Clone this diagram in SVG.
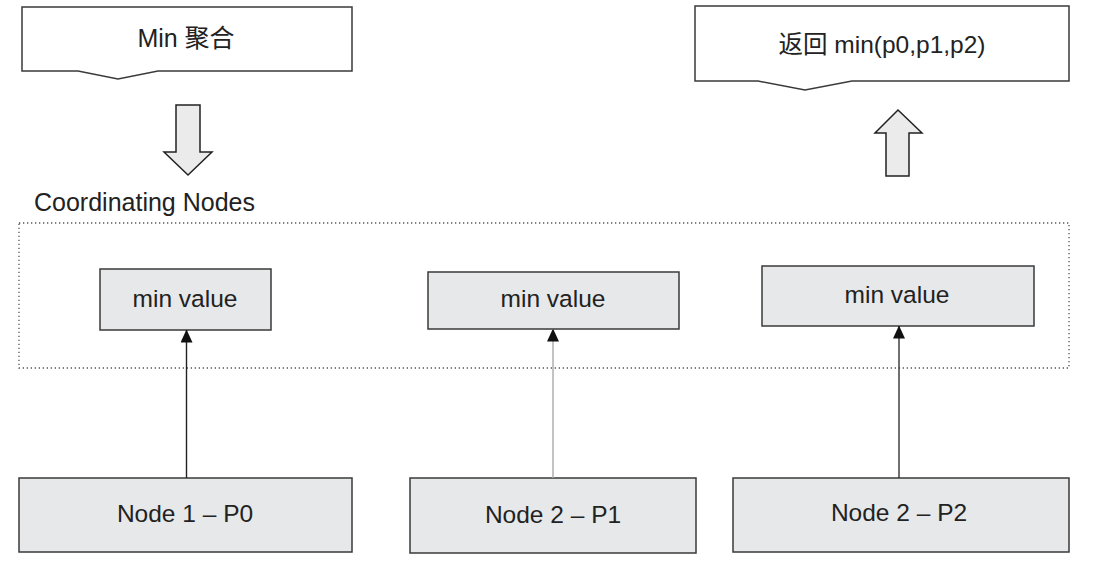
<svg xmlns="http://www.w3.org/2000/svg" width="1098" height="570" viewBox="0 0 1098 570">
<defs>
<style>
.t{font-family:"Liberation Sans","Noto Sans CJK SC",Arial,sans-serif;fill:#222;text-anchor:middle}
.box{fill:#e7e8e9;stroke:#3a3a3a;stroke-width:1.5}
.note{fill:#fff;stroke:#3a3a3a;stroke-width:1.5}
.big{fill:#ebebeb;stroke:#222;stroke-width:1.5}
.frame{fill:none;stroke:#555;stroke-width:1.3;stroke-dasharray:1.3 2.7}
.con{stroke-width:1.4;fill:none}
</style>
<marker id="ah" viewBox="0 0 13 12" refX="12.5" refY="6" markerWidth="13" markerHeight="12" markerUnits="userSpaceOnUse" orient="auto">
<path d="M0,0 L13,6 L0,12 Z" fill="#111"/>
</marker>
</defs>
<rect width="1098" height="570" fill="#fff"/>

<g id="min-agg">
<path class="note" d="M22,7 H352 V71 H158 L118,79 L78,71 H22 Z"/>
<text class="t" x="186" y="47" font-size="25">Min 聚合</text>
</g>

<g id="return-min">
<path class="note" d="M695,6 H1069 V81 H852 L805,90 L758,81 H695 Z"/>
<text class="t" x="882" y="53" font-size="24.5">返回 min(p0,p1,p2)</text>
</g>

<g id="down-arrow">
<path class="big" d="M176,105 H200 V152 H212 L188,175 L164,152 H176 Z"/>
</g>
<g id="up-arrow">
<path class="big" d="M886,176 V133 H875 L898,110 L922,133 H909 V176 Z"/>
</g>

<g id="coordinating">
<text class="t" x="34" y="211" font-size="25" style="text-anchor:start">Coordinating Nodes</text>
<rect class="frame" x="19" y="223" width="1050" height="145"/>
</g>

<g id="min1">
<rect class="box" x="100" y="269" width="171" height="61"/>
<text class="t" x="185" y="307" font-size="24.5">min value</text>
</g>
<g id="min2">
<rect class="box" x="428" y="272" width="251" height="57"/>
<text class="t" x="553" y="307" font-size="24.5">min value</text>
</g>
<g id="min3">
<rect class="box" x="762" y="266" width="272" height="60"/>
<text class="t" x="897" y="303" font-size="24.5">min value</text>
</g>

<g id="node1">
<rect class="box" x="19" y="478" width="333" height="74"/>
<text class="t" x="185" y="522" font-size="24.5">Node 1 – P0</text>
</g>
<g id="node2">
<rect class="box" x="410" y="478" width="286" height="75"/>
<text class="t" x="553" y="523" font-size="24.5">Node 2 – P1</text>
</g>
<g id="node3">
<rect class="box" x="733" y="478" width="336" height="74"/>
<text class="t" x="899" y="521" font-size="24.5">Node 2 – P2</text>
</g>

<g id="connectors">
<line class="con" x1="186.5" y1="478" x2="186.5" y2="330" stroke="#222" marker-end="url(#ah)"/>
<line class="con" x1="553" y1="478" x2="553" y2="329" stroke="#aaa" marker-end="url(#ah)"/>
<line class="con" x1="899" y1="478" x2="899" y2="326" stroke="#333" marker-end="url(#ah)"/>
</g>
</svg>
